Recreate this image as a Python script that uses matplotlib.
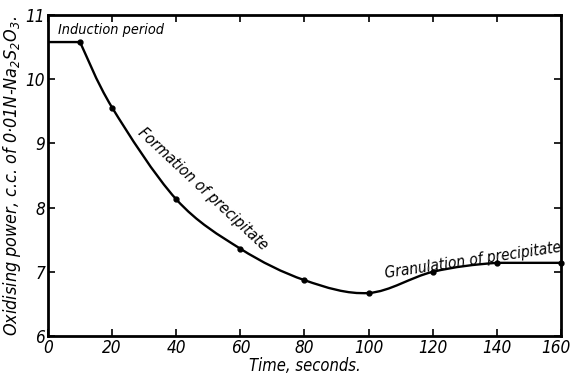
import matplotlib
matplotlib.use("Agg")
import matplotlib.pyplot as plt
from matplotlib import font_manager
from matplotlib.path import Path
from matplotlib.patches import PathPatch
import matplotlib.transforms as mtransforms
import numpy as np

# Data
time_s = [0, 10, 20, 40, 60, 80, 100, 120, 140, 160]
oxid_power = [10.58, 10.58, 9.56, 8.13, 7.36, 6.87, 6.67, 7.00, 7.14, 7.14]
x_ticks = [0, 20, 40, 60, 80, 100, 120, 140, 160]
y_ticks = [6, 7, 8, 9, 10, 11]

# pick a narrow font if available
names = {f.name for f in font_manager.fontManager.ttflist}
stretches = {(f.name, f.stretch) for f in font_manager.fontManager.ttflist}
if "Liberation Sans Narrow" in names:
    FONT = ["Liberation Sans Narrow", "DejaVu Sans"]
    STRETCH = "normal"
    SCALE = 1.0
elif any(n == "DejaVu Sans" and s in ("condensed", 75, "semi-condensed")
         for n, s in stretches):
    FONT = ["DejaVu Sans", "Noto Sans"]
    STRETCH = "condensed"
    SCALE = 0.95
else:
    FONT = ["DejaVu Sans"]
    STRETCH = "normal"
    SCALE = 0.8
plt.rcParams["font.family"] = FONT
plt.rcParams["font.style"] = "italic"
plt.rcParams["font.stretch"] = STRETCH
plt.rcParams["mathtext.fontset"] = "custom"
plt.rcParams["mathtext.rm"] = FONT[0] + ":italic"
plt.rcParams["mathtext.it"] = FONT[0] + ":italic"

fig = plt.figure(figsize=(5.71, 3.74), dpi=100)
ax = fig.add_axes([0.084, 0.1016, 0.8985, 0.858])

# Smooth curve (Catmull-Rom as cubic Bezier) from point 1 onwards; straight segment before
pts = np.column_stack([time_s, oxid_power])
verts = [tuple(pts[0]), tuple(pts[1])]
codes = [Path.MOVETO, Path.LINETO]
cp = pts[1:]
n = len(cp)
for i in range(n - 1):
    p0 = cp[i - 1] if i > 0 else cp[i]
    p1 = cp[i]
    p2 = cp[i + 1]
    p3 = cp[i + 2] if i + 2 < n else cp[i + 1]
    t1 = (p2 - p0) / 6.0
    t2 = (p3 - p1) / 6.0
    if i == n - 2:  # flat final segment
        t1 = np.array([t1[0], 0.0])
        t2 = np.array([t2[0], 0.0])
    c1 = p1 + t1
    c2 = p2 - t2
    verts += [tuple(c1), tuple(c2), tuple(p2)]
    codes += [Path.CURVE4, Path.CURVE4, Path.CURVE4]
ax.add_patch(PathPatch(Path(verts, codes), facecolor="none", edgecolor="black", lw=1.7))
ax.plot(time_s[1:], oxid_power[1:], "o", color="black", ms=3.5, clip_on=False)

ax.set_xlim(0, 160)
ax.set_ylim(6, 11)
ax.set_xticks(x_ticks)
ax.set_yticks(y_ticks)
ax.tick_params(direction="in", top=True, right=True, length=5, width=1.2,
               labelsize=13 * SCALE, pad=2, labeltop=False, labelright=False)
for s in ax.spines.values():
    s.set_linewidth(2)

# nudge the last x tick label so it stays inside the figure
last = ax.get_xticklabels()[-1]
last.set_transform(last.get_transform() + mtransforms.ScaledTranslation(-5 / 100, 0, fig.dpi_scale_trans))

ax.set_xlabel("Time, seconds.", fontsize=12.5 * SCALE, labelpad=0)
ax.set_ylabel("Oxidising power, c.c. of 0·01N-Na$_2$S$_2$O$_3$.", fontsize=13.6 * SCALE, labelpad=2)

ax.text(3, 10.66, "Induction period", fontsize=10.9 * SCALE, ha="left", va="bottom")
ax.text(27, 9.12, "Formation of precipitate", fontsize=11.9 * SCALE, rotation=-43,
        ha="left", va="bottom", rotation_mode="anchor")
ax.text(105.5, 6.86, "Granulation of precipitate", fontsize=11.7 * SCALE, rotation=8.5,
        ha="left", va="bottom", rotation_mode="anchor")

fig.savefig("out.png", dpi=100)
